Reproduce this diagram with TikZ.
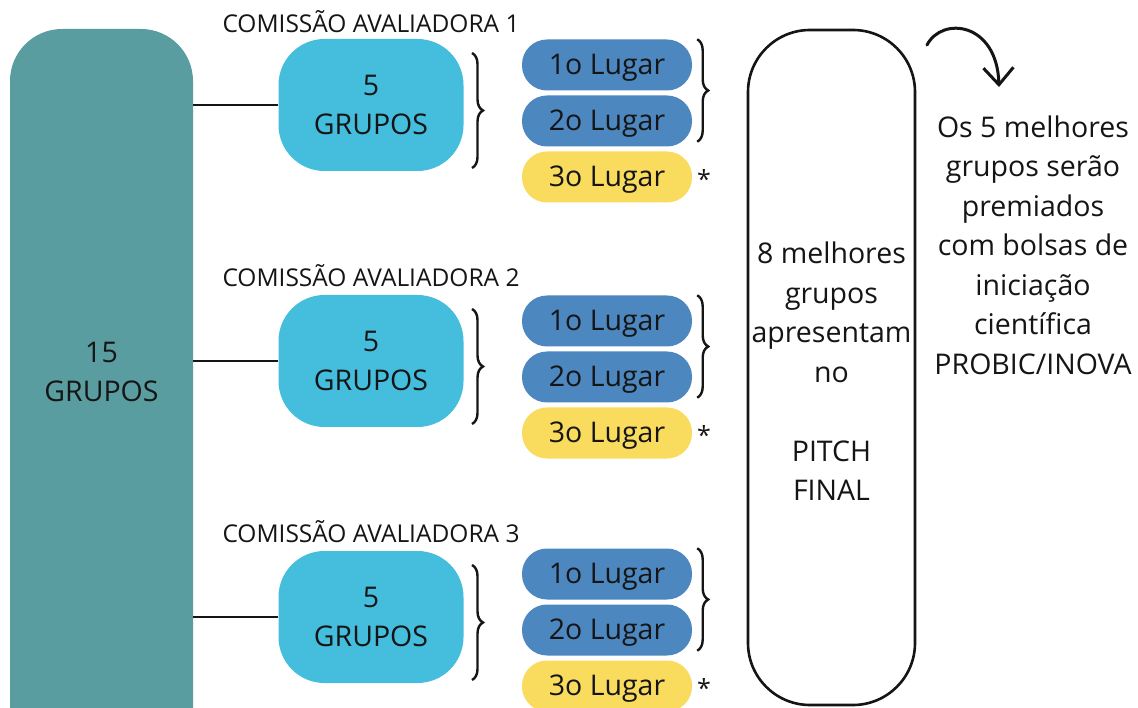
\documentclass[tikz,border=0pt]{standalone}
\usepackage{fontspec}
\setmainfont{Open Sans}
\usetikzlibrary{decorations.pathreplacing,arrows.meta,calc}
\definecolor{tealbox}{HTML}{5A9DA0}
\definecolor{cyanbox}{HTML}{45BEDE}
\definecolor{bluepill}{HTML}{4D87BF}
\definecolor{yellowpill}{HTML}{F9DB5E}
\definecolor{ink}{HTML}{151515}
\begin{document}
\begin{tikzpicture}[x=1pt,y=-1pt,
  every node/.style={text=ink},
  bigtxt/.style={font=\fontsize{28.5}{39.5}\selectfont, align=center},
  bigbox/.style={fill=tealbox, rounded corners=52pt, minimum width=183pt, minimum height=740pt, inner sep=0pt},
  grpbox/.style={fill=cyanbox, rounded corners=46pt, minimum width=185pt, minimum height=132pt, inner sep=0pt, bigtxt},
  pill/.style={rounded corners=25pt, minimum width=170pt, minimum height=51pt, inner sep=0pt, bigtxt, text height=26pt, text depth=6.5pt},
  bluep/.style={pill, fill=bluepill},
  yellp/.style={pill, fill=yellowpill},
  comlabel/.style={font=\fontsize{24.5}{28}\selectfont},
  star/.style={font=\fontsize{25}{28}\selectfont},
  link/.style={line width=2.8pt, draw=ink},
  curly/.style={line width=2.4pt, draw=ink, decorate, decoration={brace, amplitude=11pt}},
  finalbox/.style={draw=ink, line width=2.6pt, rounded corners=62pt, minimum width=167pt, minimum height=675pt, inner sep=0pt}
]
\useasboundingbox (0,0) rectangle (1138,708);
\clip (0,0) rectangle (1138,708);
\fill[white] (0,0) rectangle (1138,708);

% big teal box
\node[bigbox] (big) at (101.5,399) {};
\node[bigtxt] (bigtxt) at (101.5,372) {15\\GRUPOS};

% groups
\foreach \i/\cy/\ly in {1/105/22, 2/361/276, 3/617/532} {
  \node[comlabel] (com\i) at (371,\ly) {COMISSÃO AVALIADORA \i};
  \node[grpbox] (g\i) at (371,\cy) {5\\GRUPOS};
  \draw[link] (g\i.west -| big.east) -- (g\i.west);
}

% pills
\foreach \i/\ya/\yb/\yc in {1/65/121/177, 2/321/377/433, 3/574/630/686} {
  \node[bluep] (p\i a) at (607,\ya) {1o Lugar};
  \node[bluep] (p\i b) at (607,\yb) {2o Lugar};
  \node[yellp] (p\i c) at (607,\yc) {3o Lugar};
  \node[star] (s\i) at (704,\yc+2) {*};
  % brace between group box and pills
  \coordinate (bt\i) at ($(g\i.center)+(101,-52)$);
  \coordinate (bb\i) at ($(g\i.center)+(101,63)$);
  \draw[curly] (bt\i) -- (bb\i);
  % brace to the right of 1o and 2o
  \coordinate (rt\i) at ($(p\i a.north east)+(5,0)$);
  \coordinate (rb\i) at ($(p\i b.south east)+(5,-5)$);
  \draw[curly] (rt\i) -- (rb\i);
}

% final box
\node[finalbox] (final) at (831.5,367.5) {};
\node[bigtxt] (finaltxt) at (831.5,371.5) {8 melhores\\grupos\\apresentam\\no\\[39.5pt]PITCH\\FINAL};

% right text
\node[bigtxt] (prize) at (1033,245) {Os 5 melhores\\grupos serão\\premiados\\com bolsas de\\iniciação\\científica\\PROBIC/INOVA};

% curved arrow
\coordinate (arrS) at (927,45);
\coordinate (arrE) at (999,87);
\draw[line width=3pt, draw=ink, line cap=round, -{Straight Barb[length=17pt,width=30pt,line width=3pt]}]
  (arrS) .. controls (942,16) and (997,22) .. (arrE);
\end{tikzpicture}
\end{document}
